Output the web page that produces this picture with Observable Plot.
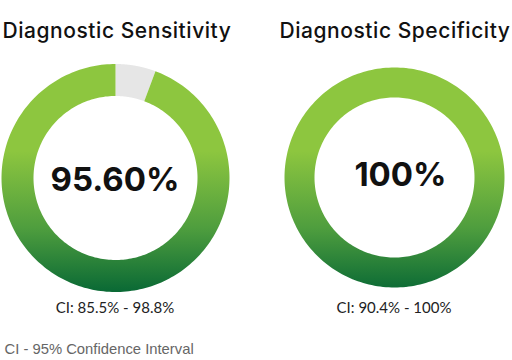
<!DOCTYPE html>
<html>
<head>
<meta charset="utf-8">
<script src="https://cdn.jsdelivr.net/npm/d3@7"></script>
<script src="https://cdn.jsdelivr.net/npm/@observablehq/plot@0.6"></script>
<style>
  html, body { margin: 0; padding: 0; background: #fff; }
  .ring-title text { letter-spacing: 0.55px; }
</style>
</head>
<body>
<div id="chart"></div>
<script>
// ---- data ----
const titles = ["Diagnostic Sensitivity", "Diagnostic Specificity"];
const centerLabels = ["95.60%", "100%"];
const ciLabels = ["CI: 85.5% - 98.8%", "CI: 90.4% - 100%"];
const filledShare = [94.3, 100];       // green share of ring as drawn (%)
const footnote = ["CI - 95% Confidence Interval"];

// ---- layout ----
const W = 512, H = 360;
const cx = [115, 394], cy = [177.5, 177];
const rOuter = [114, 110], rInner = [82, 80];

// build ring segment outlines from the shares
const segPoints = [];
filledShare.forEach((v, i) => {
  const rest = 100 - v;
  const segs = [];
  if (rest > 0) segs.push({key: `g${i}`, a0: 0, a1: rest, kind: "rest"});
  segs.push({key: `f${i}`, a0: rest, a1: 100, kind: "fill"});
  for (const s of segs) {
    const n = 240;
    const t0 = s.a0 / 100 * 2 * Math.PI, t1 = s.a1 / 100 * 2 * Math.PI;
    const pts = [];
    for (let k = 0; k <= n; k++) {
      const t = t0 + (t1 - t0) * k / n;
      pts.push({x: cx[i] + rOuter[i] * Math.sin(t), y: cy[i] - rOuter[i] * Math.cos(t)});
    }
    for (let k = n; k >= 0; k--) {
      const t = t0 + (t1 - t0) * k / n;
      pts.push({x: cx[i] + rInner[i] * Math.sin(t), y: cy[i] - rInner[i] * Math.cos(t)});
    }
    pts.forEach(p => segPoints.push({...p, key: s.key, kind: s.kind}));
  }
});

const svg = Plot.plot({
  width: W, height: H,
  margin: 0,
  x: {domain: [0, W], range: [0, W], axis: null},
  y: {domain: [0, H], range: [0, H], axis: null},
  style: {background: "#fff"},
  marks: [
    Plot.line(segPoints.filter(d => d.kind === "rest"), {x: "x", y: "y", z: "key", fill: "#e6e6e6", stroke: "none"}),
    Plot.line(segPoints.filter(d => d.kind === "fill"), {x: "x", y: "y", z: "key", fill: "url(#ringGrad)", stroke: "none", fillRule: "evenodd"}),
    Plot.text(titles, {
      x: (d, i) => [2, 279][i], y: 30.3, text: d => d,
      textAnchor: "start", lineAnchor: "middle", className: "ring-title",
      fontFamily: "Inter", fontSize: 21, fontWeight: 500, fill: "#111"
    }),
    Plot.text(centerLabels, {
      x: (d, i) => [114.5, 400][i], y: (d, i) => [180, 175][i], text: d => d,
      textAnchor: "middle", lineAnchor: "middle",
      fontFamily: "Inter", fontSize: 33, fontWeight: 700, fill: "#111"
    }),
    Plot.text(ciLabels, {
      x: (d, i) => [114.5, 393.5][i], y: 308, text: d => d,
      textAnchor: "middle", lineAnchor: "middle",
      fontFamily: "Lato", fontSize: 15, fontWeight: 400, fill: "#222"
    }),
    Plot.text(footnote, {
      x: 4, y: 349.2, text: d => d,
      textAnchor: "start", lineAnchor: "middle",
      fontFamily: "Liberation Sans", fontSize: 14.8, fill: "#666"
    })
  ]
});

const defs = d3.select(svg).insert("defs", ":first-child");
const grad = defs.append("linearGradient")
  .attr("id", "ringGrad")
  .attr("gradientUnits", "userSpaceOnUse")
  .attr("x1", 0).attr("x2", 0).attr("y1", 65).attr("y2", 290);
grad.append("stop").attr("offset", 0).attr("stop-color", "#8dc63f");
grad.append("stop").attr("offset", 0.38).attr("stop-color", "#8dc63f");
grad.append("stop").attr("offset", 0.72).attr("stop-color", "#4f9e3e");
grad.append("stop").attr("offset", 1).attr("stop-color", "#0b6a35");

document.getElementById("chart").appendChild(svg);
</script>
</body>
</html>
